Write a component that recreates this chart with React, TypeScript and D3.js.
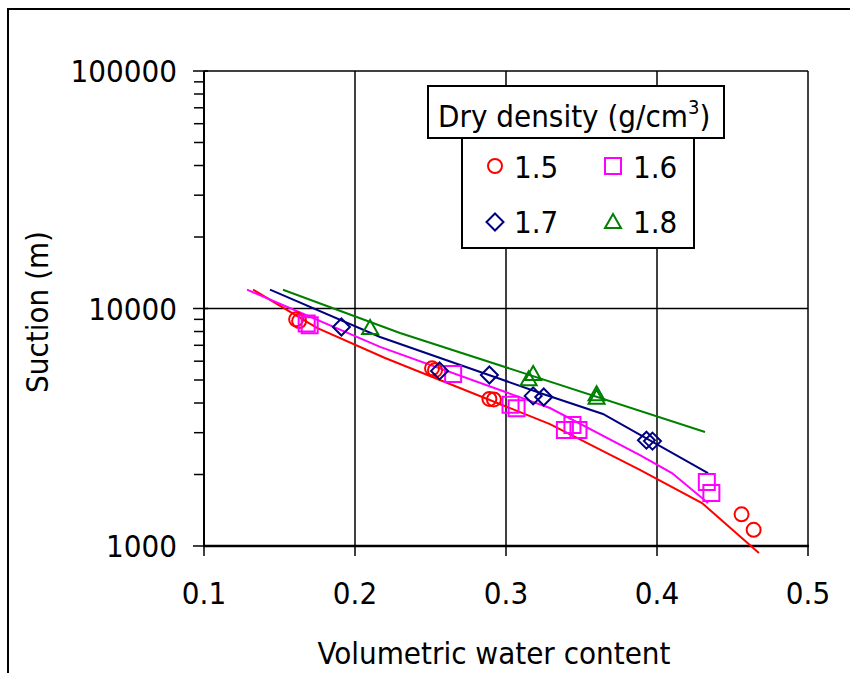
import React from "react";
import * as d3 from "d3";

const xTicks = [0.1, 0.2, 0.3, 0.4, 0.5];
const yMajorTicks = [1000, 10000, 100000];
const yLabels = ["1000", "10000", "100000"];
const seriesNames = ["1.5", "1.6", "1.7", "1.8"];
const seriesColors = ["#FF0000", "#FF00FF", "#000080", "#008000"];
const seriesShapes = ["circle", "square", "diamond", "triangle"];

// measured points [water content, suction]
const points15 = [[0.161, 9000], [0.163, 8850], [0.251, 5600], [0.253, 5500], [0.289, 4160], [0.292, 4140], [0.456, 1360], [0.464, 1170]];
const points16 = [[0.168, 8650], [0.170, 8500], [0.265, 5300], [0.303, 3930], [0.307, 3800], [0.339, 3080], [0.344, 3230], [0.348, 3080], [0.433, 1860], [0.436, 1670]];
const points17 = [[0.191, 8360], [0.256, 5460], [0.289, 5250], [0.318, 4285], [0.325, 4240], [0.393, 2790], [0.397, 2765]];
const points18 = [[0.210, 8360], [0.315, 5090], [0.318, 5350], [0.360, 4400], [0.360, 4250]];

// fitted curves
const curve15 = [[0.1325, 12000], [0.1748, 8280], [0.2199, 6190], [0.3291, 3260], [0.3887, 2090], [0.4298, 1517], [0.4675, 934]];
const curve16 = [[0.1285, 12000], [0.2166, 6890], [0.3291, 3810], [0.3887, 2416], [0.4099, 2028], [0.4338, 1517]];
const curve17 = [[0.1437, 12000], [0.2166, 7590], [0.3245, 4368], [0.3642, 3597], [0.4338, 2028]];
const curve18 = [[0.1523, 12000], [0.2298, 7890], [0.4318, 3020]];

const allPoints = [points15, points16, points17, points18];
const allCurves = [curve15, curve16, curve17, curve18];

const FONT = "'DejaVu Sans Condensed', 'DejaVu Sans', sans-serif";

function markerPath(shape: string, cx: number, cy: number): string {
  if (shape === "circle") {
    const r = 7;
    return `M${cx - r},${cy}a${r},${r} 0 1,0 ${2 * r},0a${r},${r} 0 1,0 ${-2 * r},0Z`;
  }
  if (shape === "square") {
    const h = 8;
    return `M${cx - h},${cy - h}h${2 * h}v${2 * h}h${-2 * h}Z`;
  }
  if (shape === "diamond") {
    const h = 8.5;
    return `M${cx},${cy - h}L${cx + h},${cy}L${cx},${cy + h}L${cx - h},${cy}Z`;
  }
  const w = 8, hh = 7;
  return `M${cx},${cy - hh}L${cx + w},${cy + hh}L${cx - w},${cy + hh}Z`;
}

export default function App() {
  const left = 204, right = 808, top = 71, bottom = 546;
  const x = d3.scaleLinear().domain([0.1, 0.5]).range([left, right]);
  const y = d3.scaleLog().domain([1000, 100000]).range([bottom, top]);
  const minorTicks: number[] = [];
  for (const dec of [1000, 10000]) for (let k = 2; k <= 9; k++) minorTicks.push(dec * k);
  const line = d3.line<number[]>().x(d => x(d[0])).y(d => y(d[1]));

  const legendItems = [
    { cx: 495, cy: 166, tx: 514, ty: 178 },
    { cx: 613, cy: 166, tx: 633, ty: 178 },
    { cx: 495, cy: 222, tx: 514, ty: 233 },
    { cx: 613, cy: 221, tx: 633, ty: 233 },
  ];

  return (
    <svg width={850} height={673} style={{ position: "absolute", left: 0, top: 0, background: "#fff" }} fontFamily={FONT}>
      <rect x={0} y={0} width={850} height={673} fill="#fff" />
      <rect x={8} y={9} width={900} height={700} fill="none" stroke="#000" strokeWidth={2} />
      {/* grid */}
      {xTicks.slice(1, -1).map(t => (
        <line key={"gx" + t} x1={x(t)} x2={x(t)} y1={top} y2={bottom} stroke="#000" strokeWidth={1.5} />
      ))}
      <line x1={left} x2={right} y1={y(10000)} y2={y(10000)} stroke="#000" strokeWidth={1.5} />
      <line x1={left} x2={right} y1={top} y2={top} stroke="#000" strokeWidth={1.5} />
      <line x1={right} x2={right} y1={top} y2={bottom} stroke="#000" strokeWidth={1.5} />
      {/* axes */}
      <line x1={left} x2={left} y1={top} y2={bottom} stroke="#000" strokeWidth={2} />
      <line x1={left - 1} x2={right + 1} y1={bottom} y2={bottom} stroke="#000" strokeWidth={2.5} />
      {yMajorTicks.map(t => (
        <line key={"ym" + t} x1={left - 11} x2={left + 4} y1={y(t)} y2={y(t)} stroke="#000" strokeWidth={1.5} />
      ))}
      {minorTicks.map(t => (
        <line key={"yn" + t} x1={left - 10} x2={left} y1={y(t)} y2={y(t)} stroke="#000" strokeWidth={1.5} />
      ))}
      {xTicks.map(t => (
        <line key={"xt" + t} x1={x(t)} x2={x(t)} y1={bottom} y2={bottom + 10} stroke="#000" strokeWidth={1.5} />
      ))}
      {yMajorTicks.map((t, i) => (
        <text key={"yl" + t} x={177} y={y(t) + 11} fontSize={31} textAnchor="end">{yLabels[i]}</text>
      ))}
      {xTicks.map(t => (
        <text key={"xl" + t} x={x(t)} y={604} fontSize={31} textAnchor="middle">{String(t)}</text>
      ))}
      <text x={494} y={664} fontSize={31} textAnchor="middle">Volumetric water content</text>
      <text transform="translate(48,312) rotate(-90)" fontSize={31} textAnchor="middle">Suction (m)</text>
      {/* curves */}
      {allCurves.map((c, i) => (
        <path key={"c" + i} d={line(c) || ""} fill="none" stroke={seriesColors[i]} strokeWidth={2} />
      ))}
      {/* points */}
      {allPoints.map((pts, i) => (
        <g key={"p" + i}>
          {pts.map((p, j) => (
            <path key={j} d={markerPath(seriesShapes[i], x(p[0]), y(p[1]))} fill="none" stroke={seriesColors[i]} strokeWidth={2} />
          ))}
        </g>
      ))}
      {/* legend */}
      <rect x={462} y={138} width={232} height={110} fill="#fff" stroke="#000" strokeWidth={2} />
      <rect x={428} y={86} width={296} height={52} fill="#fff" stroke="#000" strokeWidth={2} />
      <text x={438} y={127} fontSize={31}>
        Dry density (g/cm<tspan dy={-13} fontSize={20}>3</tspan><tspan dy={13}>)</tspan>
      </text>
      {legendItems.map((it, i) => (
        <g key={"lg" + i}>
          <path d={markerPath(seriesShapes[i], it.cx, it.cy)} fill="none" stroke={seriesColors[i]} strokeWidth={2} />
          <text x={it.tx} y={it.ty} fontSize={31}>{seriesNames[i]}</text>
        </g>
      ))}
    </svg>
  );
}
